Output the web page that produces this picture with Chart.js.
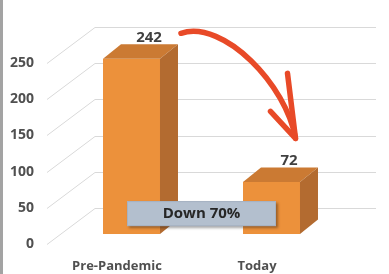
<!DOCTYPE html>
<html>
<head>
<meta charset="utf-8">
<script src="https://cdn.jsdelivr.net/npm/chart.js@4/dist/chart.umd.min.js"></script>
<style>
  html, body { margin: 0; padding: 0; background: #fff; }
  #wrap { position: relative; width: 389px; height: 274px; overflow: hidden; }
  #edge { position: absolute; left: 0; top: 0; width: 3px; height: 274px; background: #a3a3a3; }
  canvas { position: absolute; left: 0; top: 0; }
</style>
</head>
<body>
<div id="wrap">
  <canvas id="c" width="389" height="274"></canvas>
  <div id="edge"></div>
</div>
<script>
// ---- data ----
const categories = ['Pre-Pandemic', 'Today'];
const values = [242, 72];
const yTicks = [0, 50, 100, 150, 200, 250];
const changeLabelPrefix = 'Down ';

// ---- styles ----
const FRONT = '#ec913b';
const TOP = '#cb7a33';
const SIDE = '#b36b30';
const GRID = '#d9d9d9';
const FONT = '"Open Sans", "Liberation Sans", sans-serif';

const BAR_DX = 14.5;     // bar front face sits a bit into the floor
const BAR_DEPTH = [18, -14.5];
const FLOOR_DEPTH = [48, -36];

const threeD = {
  id: 'threeD',
  beforeDatasetsDraw(chart) {
    const ctx = chart.ctx, y = chart.scales.y, a = chart.chartArea;
    ctx.save();
    ctx.strokeStyle = GRID;
    ctx.lineWidth = 1;
    yTicks.forEach(v => {
      const yf = Math.round(y.getPixelForValue(v)) + 0.5;
      ctx.beginPath();
      ctx.moveTo(a.left, yf);
      ctx.lineTo(a.left + FLOOR_DEPTH[0], yf + FLOOR_DEPTH[1]);
      ctx.lineTo(a.right + FLOOR_DEPTH[0] + 1, yf + FLOOR_DEPTH[1]);
      ctx.stroke();
    });
    ctx.restore();
  },
  afterDatasetsDraw(chart) {
    const ctx = chart.ctx;
    const meta = chart.getDatasetMeta(0);
    ctx.save();
    meta.data.forEach((el, i) => {
      const p = el.getProps(['x', 'y', 'base', 'width'], true);
      const l = p.x - p.width / 2 + BAR_DX, r = p.x + p.width / 2 + BAR_DX;
      const t = p.y, b = p.base;
      const [dx, dy] = BAR_DEPTH;
      // front
      ctx.fillStyle = FRONT;
      ctx.fillRect(l, t, r - l, b - t);
      // top
      ctx.fillStyle = TOP;
      ctx.beginPath();
      ctx.moveTo(l, t); ctx.lineTo(r, t); ctx.lineTo(r + dx, t + dy); ctx.lineTo(l + dx, t + dy);
      ctx.closePath(); ctx.fill();
      // side
      ctx.fillStyle = SIDE;
      ctx.beginPath();
      ctx.moveTo(r, t); ctx.lineTo(r + dx, t + dy); ctx.lineTo(r + dx, b + dy); ctx.lineTo(r, b);
      ctx.closePath(); ctx.fill();
      // value label
      ctx.fillStyle = '#404040';
      ctx.font = 'bold 15px ' + FONT;
      ctx.textAlign = 'center';
      ctx.textBaseline = 'alphabetic';
      ctx.fillText(String(values[i]), p.x + BAR_DX + 17.5, t + dy - 2.5);
    });
    ctx.restore();
  },
  afterDraw(chart) {
    const ctx = chart.ctx, y = chart.scales.y;
    const meta = chart.getDatasetMeta(0);
    const b0 = meta.data[0].getProps(['x', 'y'], true);
    const b1 = meta.data[1].getProps(['x', 'y'], true);

    // "Down 70%" box
    const pct = Math.round((1 - values[1] / values[0]) * 100);
    const cx = (b0.x + b1.x) / 2 + BAR_DX;
    const cy = y.getPixelForValue(42);
    const w = 149, h = 25;
    ctx.save();
    ctx.shadowColor = 'rgba(0,0,0,0.35)';
    ctx.shadowOffsetX = 1.5;
    ctx.shadowOffsetY = 2;
    ctx.shadowBlur = 2.5;
    ctx.fillStyle = '#b3bfce';
    ctx.fillRect(cx - w / 2, cy - h / 2, w, h);
    ctx.restore();
    ctx.save();
    ctx.strokeStyle = '#a6b2c2';
    ctx.lineWidth = 1;
    ctx.strokeRect(cx - w / 2 + 0.5, cy - h / 2 + 0.5, w - 1, h - 1);
    ctx.fillStyle = '#262626';
    ctx.font = 'bold 15px ' + FONT;
    ctx.textAlign = 'center';
    ctx.textBaseline = 'middle';
    ctx.fillText(changeLabelPrefix + pct + '%', cx, cy + 0.5);
    ctx.restore();

    // curved arrow from the 242 label down to the 72 label
    const s = { x: b0.x + BAR_DX + 17.5 + 32, y: b0.y + BAR_DEPTH[1] - 11 };
    const tp = { x: b1.x + BAR_DX + 17.5 + 6.5, y: b1.y + BAR_DEPTH[1] - 29 };
    ctx.save();
    ctx.strokeStyle = '#e84a28';
    ctx.lineCap = 'round';
    ctx.lineJoin = 'round';
    ctx.lineWidth = 5.5;
    ctx.beginPath();
    ctx.moveTo(s.x, s.y);
    ctx.bezierCurveTo(s.x + 43, s.y - 14, tp.x - 9, tp.y - 53, tp.x, tp.y);
    ctx.stroke();
    ctx.beginPath();
    ctx.moveTo(tp.x - 25, tp.y - 27);
    ctx.lineTo(tp.x, tp.y);
    ctx.lineTo(tp.x - 8, tp.y - 65);
    ctx.stroke();
    ctx.restore();
  }
};

new Chart(document.getElementById('c'), {
  type: 'bar',
  data: {
    labels: categories,
    datasets: [{
      data: values,
      yAxisID: 'yb',
      backgroundColor: 'rgba(0,0,0,0)',
      borderWidth: 0,
      categoryPercentage: 1,
      barPercentage: 0.407,
      clip: false
    }]
  },
  options: {
    responsive: false,
    animation: false,
    events: [],
    layout: { padding: { left: 0, right: 62, top: 63, bottom: 0 } },
    plugins: { legend: { display: false }, tooltip: { enabled: false }, title: { display: false } },
    scales: {
      x: {
        grid: { display: false, drawTicks: false },
        border: { display: false },
        ticks: { color: '#505050', font: { family: FONT, size: 13, weight: 'bold' }, padding: 14 },
        afterFit: s => { s.height = 30; }
      },
      y: {
        min: 0, max: 250,
        afterBuildTicks: s => { s.ticks = yTicks.map(v => ({ value: v })); },
        grid: { display: false, drawTicks: false },
        border: { display: false },
        ticks: { color: '#505050', font: { family: FONT, size: 14, weight: 'bold' }, padding: 13 },
        afterFit: s => { s.width = 47; }
      },
      yb: {
        display: false,
        min: -13.8, max: 236.2
      }
    }
  },
  plugins: [threeD]
});
</script>
</body>
</html>
